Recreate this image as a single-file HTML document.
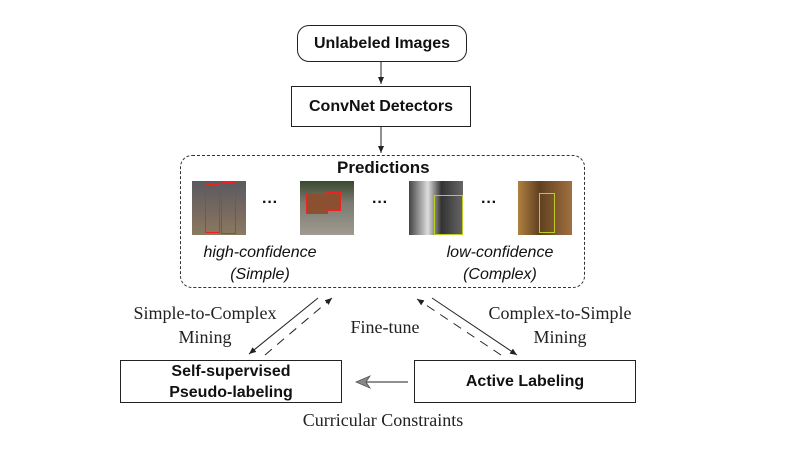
<!DOCTYPE html>
<html><head><meta charset="utf-8"><style>
body{margin:0;background:#fff;width:806px;height:452px;position:relative;overflow:hidden;font-family:"Liberation Sans",sans-serif}
.b{position:absolute;border:1.3px solid #222;box-sizing:border-box;display:flex;align-items:center;justify-content:center;text-align:center;font-weight:bold;font-size:16px;color:#111;line-height:21px}
.t{position:absolute;font-family:"Liberation Serif",serif;font-size:18px;color:#222;text-align:center;line-height:24px}
.i{position:absolute;font-style:italic;font-size:16px;color:#111;text-align:center;line-height:22px}
.img{position:absolute;width:54px;height:54px}
.img div{box-sizing:border-box;position:absolute}
.d{position:absolute;font-size:16px;font-weight:bold;color:#111}
</style></head><body>
<div class="b" style="left:297px;top:25px;width:170px;height:37px;border-radius:12px">Unlabeled Images</div>
<div class="b" style="left:291px;top:86px;width:180px;height:41px">ConvNet Detectors</div>
<div style="position:absolute;left:180px;top:155px;width:405px;height:133px;border:1.3px dashed #333;border-radius:12px;box-sizing:border-box"></div>
<div class="d" style="left:337px;top:158px;font-size:17px">Predictions</div>
<div class="img" style="left:192px;top:181px;background:linear-gradient(#5a5a60,#7a6a60 60%,#8a7a60)"><div style="left:13px;top:3px;width:15px;height:49px;border:1.5px solid #e22"></div><div style="left:29px;top:1px;width:15px;height:52px;border:1.5px solid #e22"></div></div>
<div class="img" style="left:300px;top:181px;background:linear-gradient(#3a4a30,#7a7a70 40%,#a09a90)"><div style="left:6px;top:12px;width:22px;height:21px;border:1.5px solid #e22;background:#8a5030"></div><div style="left:25px;top:11px;width:16px;height:19px;border:1.5px solid #e22;background:#8a5030"></div></div>
<div class="img" style="left:409px;top:181px;background:linear-gradient(90deg,#444,#ddd 35%,#333 60%,#666)"><div style="left:25px;top:14px;width:29px;height:40px;border:1.5px solid #bc2"></div></div>
<div class="img" style="left:518px;top:181px;background:linear-gradient(90deg,#b08040,#604020 40%,#a07040)"><div style="left:21px;top:12px;width:16px;height:40px;border:1.5px solid #bc2"></div></div>
<div class="d" style="left:262px;top:194px">···</div>
<div class="d" style="left:372px;top:194px">···</div>
<div class="d" style="left:481px;top:194px">···</div>
<div class="i" style="left:190px;top:242px;width:140px">high-confidence<br>(Simple)</div>
<div class="i" style="left:430px;top:242px;width:140px">low-confidence<br>(Complex)</div>
<div class="b" style="left:120px;top:360px;width:222px;height:43px">Self-supervised<br>Pseudo-labeling</div>
<div class="b" style="left:414px;top:360px;width:222px;height:43px">Active Labeling</div>
<div class="t" style="left:115px;top:301px;width:180px">Simple-to-Complex<br>Mining</div>
<div class="t" style="left:330px;top:315px;width:110px">Fine-tune</div>
<div class="t" style="left:470px;top:301px;width:180px">Complex-to-Simple<br>Mining</div>
<div class="t" style="left:250px;top:408px;width:266px">Curricular Constraints</div>
<svg width="806" height="452" style="position:absolute;left:0;top:0">
<defs><marker id="a" markerWidth="8" markerHeight="8" refX="7" refY="4" orient="auto" markerUnits="userSpaceOnUse"><path d="M0,1 L7,4 L0,7 Z" fill="#222"/></marker></defs>
<g stroke="#222" stroke-width="1" fill="none">
<line x1="381" y1="62" x2="381" y2="84" marker-end="url(#a)"/>
<line x1="381" y1="127" x2="381" y2="153" marker-end="url(#a)"/>
<line x1="318" y1="298" x2="249" y2="354" marker-end="url(#a)"/>
<line x1="265" y1="355" x2="332" y2="298" stroke-dasharray="9,7" marker-end="url(#a)"/>
<line x1="432" y1="298" x2="517" y2="355" marker-end="url(#a)"/>
<line x1="501" y1="355" x2="417" y2="299" stroke-dasharray="9,7" marker-end="url(#a)"/>
<line x1="408" y1="382" x2="366" y2="382"/>
</g>
<path d="M356,382 L370,376 L366,382 L370,388 Z" fill="#888" stroke="#555" stroke-width="0.8"/>
</svg>
</body></html>
